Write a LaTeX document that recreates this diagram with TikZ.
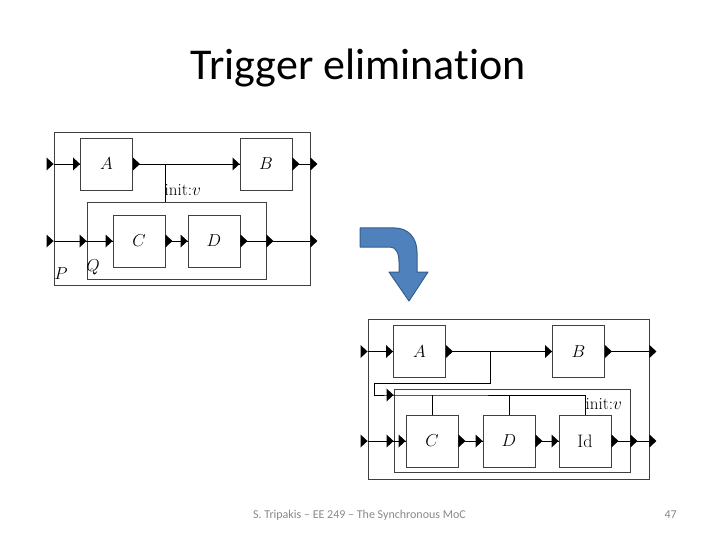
\documentclass[tikz,border=0pt]{standalone}
\usepackage{fontspec}
\newfontfamily\calibri[Ligatures=NoCommon]{Carlito}
\usetikzlibrary{calc}
\definecolor{arrowfill}{HTML}{4F81BD}
\definecolor{arrowline}{HTML}{385D8A}
\definecolor{footgray}{HTML}{898989}
\tikzset{
  blk/.style={draw=black!75, line width=0.9pt, minimum width=52pt, minimum height=52pt, inner sep=0pt, font=\fontsize{18}{20}\selectfont},
  frame/.style={draw=black!75, line width=0.9pt, inner sep=0pt},
  wire/.style={line width=0.9pt, black},
  lbl/.style={font=\fontsize{17}{19}\selectfont, inner sep=0pt},
  bigarrow/.style={fill=arrowfill, draw=arrowline, line width=1pt, line join=round}
}
\newcommand\myinport[1]{\fill[shift={(#1)}] (-7,-6.5) -- (0,0) -- (-7,6.5) -- cycle;}
\newcommand\myoutport[1]{\fill[shift={(#1)}] (0,-6.5) -- (7,0) -- (0,6.5) -- cycle;}
\begin{document}
\begin{tikzpicture}[x=1pt,y=-1pt]
\useasboundingbox[fill=white] (0,0) rectangle (720,540);

% title
\node[font=\calibri\fontsize{44}{50}\selectfont, anchor=base, inner sep=0pt] (title) at (358,80) {Trigger elimination};

% ---------------- top diagram ----------------
\node[frame, minimum width=256pt, minimum height=153pt] (P) at (182,208.5) {};
\node[frame, minimum width=179pt, minimum height=77pt] (Q) at (176.5,240.5) {};
\node[blk] (A) at (106.5,164) {$A$};
\node[blk] (B) at (266,164) {$B$};
\node[blk] (C) at (139,241) {$C$};
\node[blk] (D) at (214,241) {$D$};

\coordinate (Pin1) at (P.west |- A.west);
\coordinate (Pout1) at (P.east |- B.east);
\coordinate (Pin2) at (P.west |- C.west);
\coordinate (Qin) at (Q.west |- C.west);
\coordinate (Qout) at (Q.east |- D.east);
\coordinate (Pout2) at (P.east |- D.east);
\path (A.east) ++(32,0) coordinate (br);

\draw[wire] (Pin1) -- (A.west);
\draw[wire] (A.east) -- (B.west);
\draw[wire] (B.east) -- (Pout1);
\draw[wire] (br) -- (br |- Q.north);
\draw[wire] (Pin2) -- (C.west);
\draw[wire] (C.east) -- (D.west);
\draw[wire] (D.east) -- (Pout2);

\myinport{Pin1} \myinport{A.west} \myinport{B.west}
\myinport{Pin2} \myinport{Qin} \myinport{C.west} \myinport{D.west}
\myoutport{A.east} \myoutport{B.east} \myoutport{Pout1}
\myoutport{C.east} \myoutport{D.east} \myoutport{Qout} \myoutport{Pout2}

\node[lbl, anchor=west] (iv1) at (164.5,190) {init:$v$};
\node[lbl, font=\fontsize{18}{20}\selectfont] (Plbl) at (61,274) {$P$};
\node[lbl, font=\fontsize{18}{20}\selectfont] (Qlbl) at (93,267) {$Q$};

% ---------------- curved arrow ----------------
\path[bigarrow] (360,228) -- (395,228) .. controls (408,228) and (417,238) .. (417,252)
  -- (417,272) -- (428,272) -- (409,301) -- (389,272) -- (399,272) -- (399,262)
  .. controls (399,253) and (396,247) .. (390,247) -- (360,247) -- cycle;

% ---------------- bottom diagram ----------------
\node[frame, minimum width=281pt, minimum height=160pt] (P2) at (508.5,399) {};
\node[frame, minimum width=236pt, minimum height=83pt] (Q2) at (512,430.5) {};
\node[blk] (A2) at (419.5,351.5) {$A$};
\node[blk] (B2) at (578.5,351.5) {$B$};
\node[blk] (C2) at (432,441) {$C$};
\node[blk] (D2) at (509,441) {$D$};
\node[blk] (Id) at (585,441) {Id};

\coordinate (P2in1) at (P2.west |- A2.west);
\coordinate (P2out1) at (P2.east |- B2.east);
\coordinate (P2in2) at (P2.west |- C2.west);
\coordinate (Q2in) at (Q2.west |- C2.west);
\coordinate (Q2out) at (Q2.east |- Id.east);
\coordinate (P2out2) at (P2.east |- Id.east);
\path (A2.east) ++(44,0) coordinate (br2);
\coordinate (b2a) at ($(br2)+(0,32)$);
\coordinate (b2b) at ($(P2.west |- b2a)+(7,0)$);
\coordinate (b2c) at ($(b2b)+(0,11.5)$);
\coordinate (Tin) at (Q2.west |- b2c);
\coordinate (Tend) at (Id.north |- b2c);

\draw[wire] (P2in1) -- (A2.west);
\draw[wire] (A2.east) -- (B2.west);
\draw[wire] (B2.east) -- (P2out1);
\draw[wire] (br2) -- (b2a) -- (b2b) -- (b2c) -- (Tin) -- (Tend);
\draw[wire] (C2.north |- Tin) -- (C2.north);
\draw[wire] (D2.north |- Tin) -- (D2.north);
\draw[wire] (Tend) -- (Id.north);
\draw[wire] (P2in2) -- (C2.west);
\draw[wire] (C2.east) -- (D2.west);
\draw[wire] (D2.east) -- (Id.west);
\draw[wire] (Id.east) -- (P2out2);

\myinport{P2in1} \myinport{A2.west} \myinport{B2.west} \myinport{Tin}
\myinport{P2in2} \myinport{Q2in} \myinport{C2.west} \myinport{D2.west} \myinport{Id.west}
\myoutport{A2.east} \myoutport{B2.east} \myoutport{P2out1}
\myoutport{C2.east} \myoutport{D2.east} \myoutport{Id.east} \myoutport{Q2out} \myoutport{P2out2}

\node[lbl, anchor=west] (iv2) at (585.5,404) {init:$v$};

% ---------------- footer ----------------
\node[font=\calibri\fontsize{12}{14}\selectfont, text=footgray, inner sep=0pt] (foot) at (359.5,515) {S. Tripakis – EE 249 – The Synchronous MoC};
\node[font=\calibri\fontsize{12}{14}\selectfont, text=footgray, inner sep=0pt, anchor=east] (pnum) at (677,515) {47};
\end{tikzpicture}
\end{document}
